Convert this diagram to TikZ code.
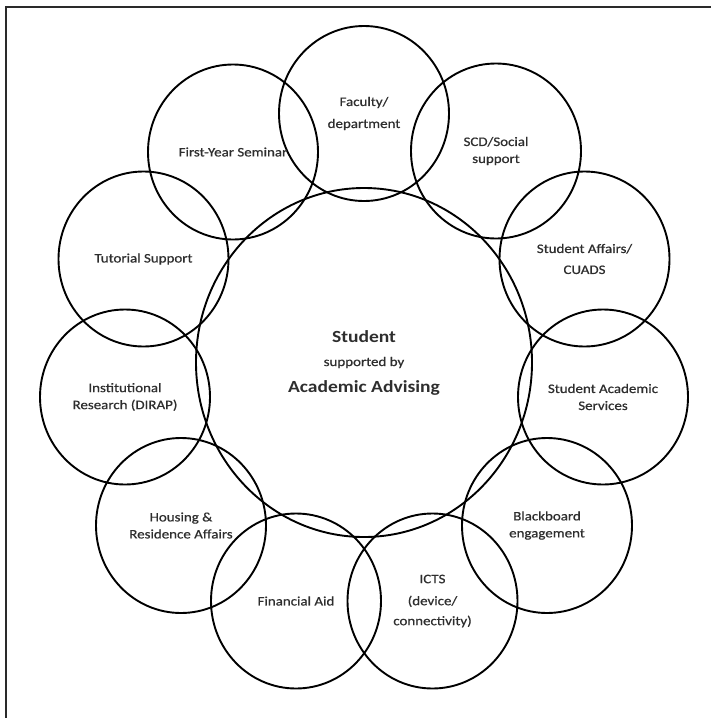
\documentclass[tikz,border=0pt]{standalone}
\usepackage{fontspec}
\setmainfont{Carlito}[FakeStretch=1.15, UprightFeatures={FakeBold=0.7}]
\usetikzlibrary{shapes.geometric}
\definecolor{txt}{HTML}{2E2E2E}
\definecolor{framec}{HTML}{2A2A2A}
\tikzset{
  ring/.style={ellipse, draw=black, line width=1.9pt, inner sep=0pt,
    minimum width=170pt, minimum height=175pt, align=center, text=txt,
    font=\fontsize{13}{17}\selectfont},
  hub/.style={ring, minimum width=336pt, minimum height=349pt,
    font=\fontsize{13}{24}\selectfont},
  frameline/.style={draw=framec, line width=1.6pt}
}
\begin{document}
\begin{tikzpicture}[x=1pt,y=-1pt]
\useasboundingbox (0,0) rectangle (711,718);
\coordinate (fbl) at (6,718);
\coordinate (ftl) at (6,7);
\coordinate (ftr) at (711,7);
\draw[frameline] (fbl) -- (ftl) -- (ftr);

\node[hub] (hub) at (364,362.5) {{\bfseries\fontsize{17}{24}\selectfont Student}\\ supported by\\[2pt] {\bfseries\fontsize{17}{24}\selectfont Academic Advising}};

\node[ring] (fac) at (364,113.5) {Faculty/\\[5pt]department};
\node[ring] (fys) at (233,152) {First-Year Seminar};
\node[ring] (scd) at (496,151) {SCD/Social\\support};
\node[ring] (tut) at (143.5,259) {Tutorial Support};
\node[ring] (saf) at (584.5,259) {Student Affairs/\\[4pt]CUADS};
\node[ring] (inst) at (125,397) {Institutional\\Research (DIRAP)};
\node[ring] (sas) at (603,397) {Student Academic\\Services};
\node[ring] (hou) at (181,525.5) {Housing \&\\Residence Affairs};
\node[ring] (bb) at (547,525.5) {Blackboard\\engagement};
\node[ring] (fin) at (296,601) {Financial Aid};
\node[ring] (icts) at (432.5,601) {ICTS\\[5pt](device/\\[3pt]connectivity)};
\end{tikzpicture}
\end{document}
